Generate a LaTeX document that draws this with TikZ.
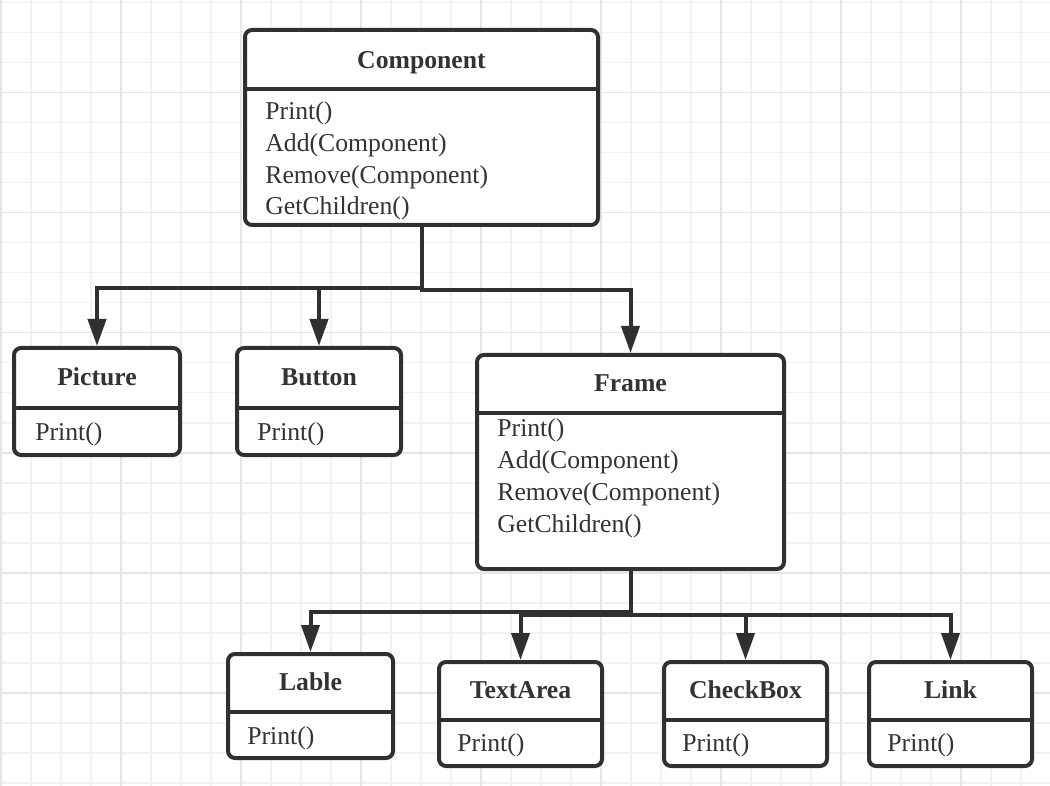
\documentclass[tikz,border=0pt]{standalone}
\usepackage{fontspec}
\setmainfont{Liberation Serif}
\usetikzlibrary{arrows.meta,fit}

\definecolor{linecol}{HTML}{303030}
\definecolor{txtcol}{HTML}{333333}
\definecolor{minorgrid}{HTML}{F2F2F2}
\definecolor{majorgrid}{HTML}{E6E6E6}

\tikzset{
  classbox/.style={draw=linecol,line width=2pt,rounded corners=3.5pt,fill=white,inner sep=0pt},
  divider/.style={draw=linecol,line width=2pt},
  classtitle/.style={font=\bfseries\fontsize{12.85pt}{15.9pt}\selectfont,text=txtcol,inner sep=0pt,anchor=base},
  classops/.style={font=\fontsize{12.85pt}{15.9pt}\selectfont,text=txtcol,inner sep=0pt,anchor=base west,align=left}
}
\tikzset{conn/.style={draw=linecol,line width=2pt,-{Triangle[length=13.5pt,width=9pt]}}}

\begin{document}
\begin{tikzpicture}[x=0.5pt,y=-0.5pt]
      \useasboundingbox (0,0) rectangle (1050,786);
      \fill[white] (0,0) rectangle (1050,786);
      % background grid
      \foreach \gx in {1,31,...,1051} \draw[minorgrid,line width=0.8pt] (\gx,0) -- (\gx,786);
      \foreach \gy in {2.7,32.7,...,786} \draw[minorgrid,line width=0.8pt] (0,\gy) -- (1050,\gy);
      \foreach \gx in {1,121,...,1051} \draw[majorgrid,line width=0.8pt] (\gx,0) -- (\gx,786);
      \foreach \gy in {92.7,212.7,...,786} \draw[majorgrid,line width=0.8pt] (0,\gy) -- (1050,\gy);

      % Component (multi-line text sits on its last baseline)
      \node[classbox,fit={(245,30) (598,225)}] (comp) {};
      \draw[divider] (245,89) -- (598,89);
      \node[classtitle] (comp-title) at (421.5,68.3) {Component};
      \node[classops] (comp-ops) at (265,214.9) {Print()\\Add(Component)\\Remove(Component)\\GetChildren()};

      % Picture, Button
      \node[classbox,fit={(14,348) (180,455)}] (pic) {};
      \draw[divider] (14,408) -- (180,408);
      \node[classtitle] (pic-title) at (97,386) {Picture};
      \node[classops] (pic-ops) at (35,440) {Print()};

      \node[classbox,fit={(237,348) (401,455)}] (btn) {};
      \draw[divider] (237,408) -- (401,408);
      \node[classtitle] (btn-title) at (319,386) {Button};
      \node[classops] (btn-ops) at (257,440) {Print()};

      % Frame
      \node[classbox,fit={(477,355) (784,569)}] (frame) {};
      \draw[divider] (477,413) -- (784,413);
      \node[classtitle] (frame-title) at (630.5,392) {Frame};
      \node[classops] (frame-ops) at (497,532.3) {Print()\\Add(Component)\\Remove(Component)\\GetChildren()};

      % leaves of Frame
      \node[classbox,fit={(228,654) (393,758)}] (lable) {};
      \draw[divider] (228,712) -- (393,712);
      \node[classtitle] (lable-title) at (310.5,690.5) {Lable};
      \node[classops] (lable-ops) at (247,744) {Print()};

      \node[classbox,fit={(439,662) (602,766)}] (text) {};
      \draw[divider] (439,720) -- (602,720);
      \node[classtitle] (text-title) at (520.5,698.5) {TextArea};
      \node[classops] (text-ops) at (457,751.5) {Print()};

      \node[classbox,fit={(664,662) (827,766)}] (check) {};
      \draw[divider] (664,720) -- (827,720);
      \node[classtitle] (check-title) at (745.5,698.5) {CheckBox};
      \node[classops] (check-ops) at (682,751.5) {Print()};

      \node[classbox,fit={(869,662) (1032,766)}] (link) {};
      \draw[divider] (869,720) -- (1032,720);
      \node[classtitle] (link-title) at (950.5,698.5) {Link};
      \node[classops] (link-ops) at (887,751.5) {Print()};

      % connectors
      \draw[conn] (comp.south) -- ++(0,61) -| (pic.north);
      \draw[conn] (comp.south) -- ++(0,61) -| (btn.north);
      \draw[conn] (comp.south) -- ++(0,63) -| (frame.north);
      \draw[conn] (frame.south) -- ++(0,41) -| (lable.north);
      \draw[conn] (frame.south) -- ++(0,44) -| (text.north);
      \draw[conn] (frame.south) -- ++(0,44) -| (check.north);
      \draw[conn] (frame.south) -- ++(0,44) -| (link.north);
    \end{tikzpicture}
\end{document}
